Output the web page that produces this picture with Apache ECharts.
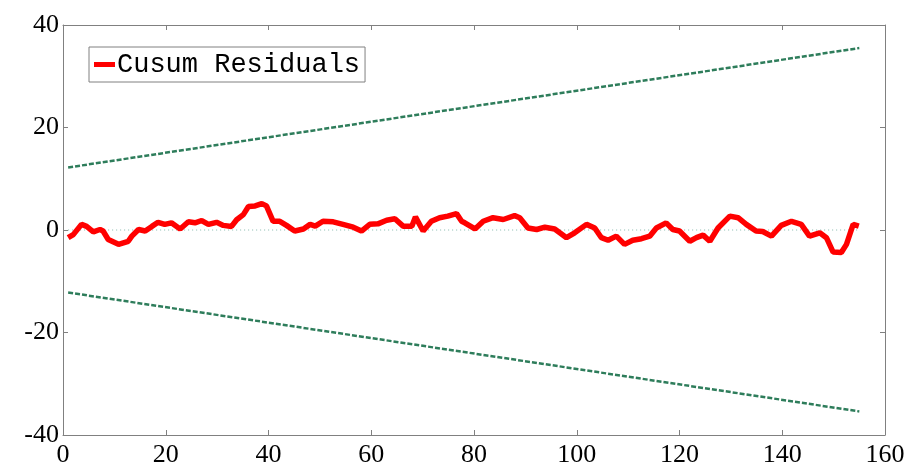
<!DOCTYPE html>
<html>
<head>
<meta charset="utf-8">
<script src="https://cdn.jsdelivr.net/npm/echarts@6/dist/echarts.min.js"></script>
<style>html,body{margin:0;padding:0;background:#fff}#c{width:913px;height:468px}</style>
</head>
<body>
<div id="c"></div>
<script>
const cusumX = [1.0,2.0,3.6,4.6,5.9,7.2,7.8,8.8,10.8,12.7,13.4,14.7,16.0,17.3,18.5,19.8,21.1,22.8,24.4,25.7,27.0,28.3,29.9,31.2,32.8,33.8,35.1,36.1,37.4,38.7,39.6,40.9,42.2,43.5,45.1,46.8,48.1,49.1,50.6,52.6,54.5,56.5,58.1,59.7,61.3,63.0,64.6,66.2,67.9,68.6,70.1,71.7,73.3,74.9,76.6,77.6,78.2,80.2,81.8,83.7,85.7,87.9,88.9,90.5,92.2,93.8,95.7,96.7,98.0,99.6,101.9,103.5,104.8,106.1,107.7,109.3,110.9,112.6,114.2,115.5,117.4,118.7,120.0,122.0,123.3,124.6,125.9,127.5,129.8,131.4,133.0,134.9,136.2,137.9,139.8,141.8,143.7,145.3,147.3,148.6,149.9,151.5,152.5,153.8,154.9];
const cusumY = [-1.5,-0.9,1.1,0.7,-0.35,0.1,-0.2,-1.85,-2.8,-2.2,-1.2,0.1,-0.2,0.7,1.5,1.1,1.4,0.2,1.6,1.4,1.85,1.1,1.5,0.9,0.7,2.0,3.0,4.6,4.7,5.15,4.7,1.7,1.7,0.9,-0.2,0.2,1.1,0.75,1.7,1.6,1.1,0.55,-0.2,1.1,1.2,1.9,2.2,0.75,0.75,2.55,-0.2,1.7,2.4,2.7,3.2,1.7,1.4,0.2,1.7,2.4,2.05,2.8,2.4,0.4,0.1,0.55,0.2,-0.55,-1.5,-0.55,1.1,0.4,-1.5,-2.0,-1.2,-2.8,-2.0,-1.7,-1.2,0.4,1.4,0.1,-0.2,-2.2,-1.5,-1.0,-2.2,0.4,2.7,2.4,1.1,-0.2,-0.3,-1.2,0.9,1.7,1.1,-1.2,-0.55,-1.5,-4.3,-4.4,-2.8,1.1,0.75];
const boundX = [1, 155];
const upperBound = [12.2, 35.5];
const lowerBound = [-12.2, -35.4];
const zeroLine = [0, 0];
const xTicks = {min: 0, max: 160, interval: 20};
const yTicks = {min: -40, max: 40, interval: 20};
const legendName = 'Cusum Residuals';

const zip = (xs, ys) => xs.map((x, i) => [x, ys[i]]);
const chart = echarts.init(document.getElementById('c'), null, {renderer: 'canvas'});
const frame = {lineStyle: {color: '#808080', width: 1}};
const labelFont = {fontFamily: 'Liberation Serif', fontSize: 26, color: '#000'};
chart.setOption({
  animation: false,
  backgroundColor: '#fff',
  grid: {left: 63, right: 28, top: 25, bottom: 32},
  legend: {
    data: [{name: legendName, icon: 'rect'}],
    left: 89, top: 47,
    itemWidth: 21, itemHeight: 5,
    padding: [4, 5, 4, 5],
    borderColor: '#808080', borderWidth: 1, backgroundColor: '#fff',
    textStyle: {fontFamily: 'Liberation Mono', fontSize: 27, color: '#000', padding: [2, 0, 0, -3]}
  },
  xAxis: [
    {type: 'value', ...xTicks, position: 'bottom', axisLine: {show: true, onZero: false, ...frame},
     axisTick: {show: true, inside: true, length: 5, lineStyle: {color: '#808080'}},
     axisLabel: {...labelFont, margin: 7}, splitLine: {show: false}},
    {type: 'value', ...xTicks, position: 'top', axisLine: {show: true, onZero: false, ...frame},
     axisTick: {show: true, inside: true, length: 5, lineStyle: {color: '#808080'}},
     axisLabel: {show: false}, splitLine: {show: false}}
  ],
  yAxis: [
    {type: 'value', ...yTicks, position: 'left', axisLine: {show: true, onZero: false, ...frame},
     axisTick: {show: true, inside: true, length: 5, lineStyle: {color: '#808080'}},
     axisLabel: {...labelFont, margin: 4}, splitLine: {show: false}},
    {type: 'value', ...yTicks, position: 'right', axisLine: {show: true, onZero: false, ...frame},
     axisTick: {show: true, inside: true, length: 5, lineStyle: {color: '#808080'}},
     axisLabel: {show: false}, splitLine: {show: false}}
  ],
  series: [
    {name: 'zero', type: 'line', data: zip(boundX, zeroLine), showSymbol: false, silent: true,
     lineStyle: {color: '#86b8ad', width: 1, type: [1, 3]}},
    {name: 'upper', type: 'line', data: zip(boundX, upperBound), showSymbol: false, silent: true,
     lineStyle: {color: '#2e7d5b', width: 2.5, type: [5, 2]}},
    {name: 'lower', type: 'line', data: zip(boundX, lowerBound), showSymbol: false, silent: true,
     lineStyle: {color: '#2e7d5b', width: 2.5, type: [5, 2]}},
    {name: legendName, type: 'line', data: zip(cusumX, cusumY), showSymbol: false,
     itemStyle: {color: '#ff0000'}, lineStyle: {color: '#ff0000', width: 5.5}}
  ]
});
</script>
</body>
</html>
